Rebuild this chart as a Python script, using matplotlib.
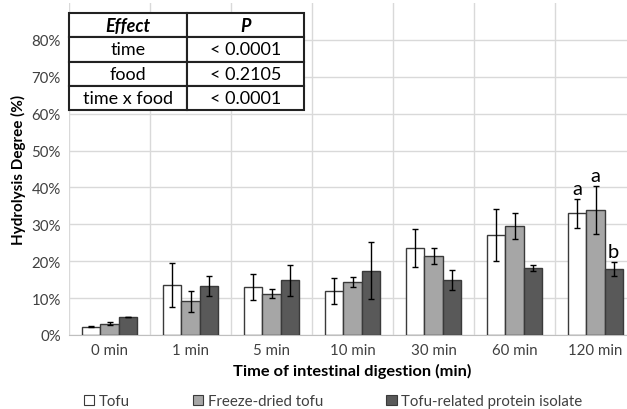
import matplotlib
matplotlib.use("Agg")
import matplotlib.pyplot as plt
import numpy as np
from matplotlib.patches import Patch

plt.rcParams["font.family"] = ["Lato", "DejaVu Sans"]

times = ["0 min", "1 min", "5 min", "10 min", "30 min", "60 min", "120 min"]
series = ["Tofu", "Freeze-dried tofu", "Tofu-related protein isolate"]
tofu = [2.3, 13.5, 13.0, 11.9, 23.5, 27.1, 33.0]
tofu_err = [0.1, 5.9, 3.5, 3.5, 5.1, 7.0, 4.0]
dried = [3.1, 9.1, 11.2, 14.3, 21.5, 29.6, 33.9]
dried_err = [0.5, 2.8, 1.2, 1.4, 2.2, 3.6, 6.6]
isolate = [4.9, 13.3, 14.8, 17.4, 14.8, 18.2, 17.8]
isolate_err = [0.1, 2.7, 4.2, 7.7, 2.7, 0.9, 1.9]
letters = ["a", "a", "b"]  # significance letters at 120 min
yticks = [0, 10, 20, 30, 40, 50, 60, 70, 80]

effects = ["time", "food", "time x food"]
pvals = ["< 0.0001", "< 0.2105", "< 0.0001"]

colors = ["white", "#a6a6a6", "#595959"]
W, H = 627, 410
fig = plt.figure(figsize=(W / 100, H / 100), dpi=100)
ax = fig.add_axes([69 / W, (H - 336) / H, 567 / W, 332 / H])

x = np.arange(len(times))
bw = 0.225
data = [(tofu, tofu_err), (dried, dried_err), (isolate, isolate_err)]
for k, (vals, errs) in enumerate(data):
    ax.bar(x + (k - 1) * bw, vals, bw, yerr=errs, color=colors[k], edgecolor="#3a3a3a",
           linewidth=1.0, label=series[k], zorder=3,
           error_kw=dict(ecolor="black", elinewidth=1.0, capsize=2, capthick=1.0))

last = len(times) - 1
for k, (vals, errs) in enumerate(data):
    ax.text(last + (k - 1) * bw, vals[last] + errs[last] + 0.5, letters[k],
            ha="center", va="bottom", fontsize=14.5, zorder=4)

ax.set_xlim(-0.5, len(times) - 0.5)
ax.set_ylim(0, 90)
ax.set_yticks(yticks)
ax.set_yticklabels([f"{v}%" for v in yticks], fontsize=10.8, color="#404040")
ax.set_xticks(x)
ax.set_xticklabels(times, fontsize=10.8, color="#404040")
ax.set_xticks(np.arange(len(times) + 1) - 0.5, minor=True)
ax.tick_params(which="both", length=0, pad=6)
ax.grid(axis="y", which="major", color="#d9d9d9", linewidth=1.0, zorder=0)
ax.grid(axis="x", which="minor", color="#d9d9d9", linewidth=1.0, zorder=0)
ax.grid(axis="x", which="major", visible=False)
for s in ["top", "right", "left"]:
    ax.spines[s].set_visible(False)
ax.spines["bottom"].set_color("#bfbfbf")
ax.set_axisbelow(True)

ax.set_xlabel("Time of intestinal digestion (min)", fontsize=11.8, fontweight="bold", labelpad=4)
ax.set_ylabel("Hydrolysis Degree (%)", fontsize=11, fontweight="bold", labelpad=4)

cells = [[e, p] for e, p in zip(effects, pvals)]
tb = ax.table(cellText=cells, colLabels=["Effect", "P"], cellLoc="center",
              bbox=[0, (336 - 111) / 332, 235 / 567, 97 / 332], zorder=5)
tb.auto_set_font_size(False)
for (r, c), cell in tb.get_celld().items():
    cell.set_edgecolor("#222222")
    cell.set_linewidth(1.5)
    cell.set_facecolor("white")
    cell.get_text().set_fontsize(13)
    if r == 0:
        cell.get_text().set_fontweight("bold")
        cell.get_text().set_fontstyle("italic")

handles = [Patch(facecolor=colors[k], edgecolor="#3a3a3a", linewidth=0.8) for k in range(3)]
fig.legend(handles, series, loc="center", bbox_to_anchor=(333 / W, 1 - 402 / H), ncol=3,
           frameon=False, fontsize=10.8, handlelength=0.7, handleheight=0.7,
           handletextpad=0.3, columnspacing=4.2, labelcolor="#404040")

fig.savefig("out.png", dpi=100)
